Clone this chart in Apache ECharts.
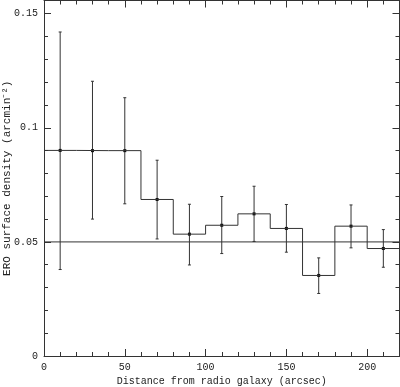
<!DOCTYPE html>
<html><head><meta charset="utf-8">
<script src="https://cdn.jsdelivr.net/npm/echarts@6/dist/echarts.min.js"></script>
<style>html,body{margin:0;padding:0;background:#fff}#c{width:400px;height:387px}</style>
</head><body><div id="c"></div>
<script>
const binEdges = [0,20,40,60,80,100,120,140,160,180,200,220];
const binCenters = [10,30,50,70,90,110,130,150,170,190,210];
const density = [0.0901,0.0900,0.0900,0.0686,0.0534,0.0573,0.0623,0.0559,0.0353,0.0569,0.0471];
const errHigh = [0.1420,0.1204,0.1132,0.0858,0.0665,0.0699,0.0744,0.0664,0.0430,0.0662,0.0554];
const errLow  = [0.0379,0.0600,0.0667,0.0513,0.0399,0.0449,0.0502,0.0455,0.0274,0.0474,0.0389];
const refLevel = 0.05;
const xTicks = [0,50,100,150,200];
const yTicks = [0,0.05,0.1,0.15];

const C = '#333';
const FONT = 'Liberation Mono';

const stepData = binEdges.map((e,i)=>[e, density[Math.min(i, density.length-1)]]);
const errData = binCenters.map((x,i)=>[x, density[i], errLow[i], errHigh[i]]);
const refData = [[binEdges[0], refLevel],[binEdges[binEdges.length-1], refLevel]];

function axisCommon(extra){
  return Object.assign({
    axisLine:{show:true,onZero:false,lineStyle:{color:C,width:1}},
    axisTick:{show:true,inside:true,length:7,lineStyle:{color:C,width:1}},
    minorTick:{show:true,splitNumber:5,length:4,lineStyle:{color:C,width:1}},
    splitLine:{show:false},
    minorSplitLine:{show:false}
  }, extra);
}

const chart = echarts.init(document.getElementById('c'), null, {renderer:'canvas'});
chart.setOption({
  animation:false,
  backgroundColor:'#fff',
  textStyle:{fontFamily:FONT},
  grid:{left:44,right:0.5,top:0.5,bottom:31,containLabel:false,outerBoundsMode:'none'},
  xAxis:[
    axisCommon({type:'value',position:'bottom',min:0,max:220,interval:50,
      name:'Distance from radio galaxy (arcsec)',nameLocation:'middle',nameGap:20,nameMoveOverlap:false,
      nameTextStyle:{fontFamily:FONT,fontSize:10,color:'#222'},
      axisLabel:{show:true,margin:6,fontFamily:FONT,fontSize:10,color:'#222',
        formatter:v=>xTicks.includes(v)?String(v):''}}),
    axisCommon({type:'value',position:'top',min:0,max:220,interval:50,axisLabel:{show:false}})
  ],
  yAxis:[
    axisCommon({type:'value',position:'left',min:0,max:0.1558,interval:0.05,
      name:'ERO surface density (arcmin\u207B\u00B2)',nameLocation:'middle',nameGap:31,nameMoveOverlap:false,
      nameTextStyle:{fontFamily:FONT,fontSize:11,color:'#222'},
      axisLabel:{show:true,margin:6,fontFamily:FONT,fontSize:10,color:'#222',
        showMaxLabel:false,
        formatter:v=>{const t=yTicks.find(k=>Math.abs(k-v)<1e-9);return t===undefined?'':String(t);}}}),
    axisCommon({type:'value',position:'right',min:0,max:0.1558,interval:0.05,axisLabel:{show:false}})
  ],
  series:[
    {type:'line',data:refData,xAxisIndex:0,yAxisIndex:0,symbol:'none',
      lineStyle:{color:C,width:1},silent:true},
    {type:'line',step:'end',data:stepData,xAxisIndex:0,yAxisIndex:0,symbol:'none',
      lineStyle:{color:C,width:1},silent:true},
    {type:'custom',xAxisIndex:0,yAxisIndex:0,data:errData,
      renderItem:function(params,api){
        const x=api.value(0);
        const pc=api.coord([x,api.value(1)]);
        const pl=api.coord([x,api.value(2)]);
        const ph=api.coord([x,api.value(3)]);
        const st={stroke:C,lineWidth:1};
        const cw=1.5;
        return {type:'group',children:[
          {type:'line',shape:{x1:pc[0],y1:pl[1],x2:pc[0],y2:ph[1]},style:st},
          {type:'line',shape:{x1:pc[0]-cw,y1:pl[1],x2:pc[0]+cw,y2:pl[1]},style:st},
          {type:'line',shape:{x1:pc[0]-cw,y1:ph[1],x2:pc[0]+cw,y2:ph[1]},style:st},
          {type:'rect',shape:{x:pc[0]-1.5,y:pc[1]-1.5,width:3,height:3},style:{fill:'#111'}}
        ]};
      }}
  ]
});
</script></body></html>
